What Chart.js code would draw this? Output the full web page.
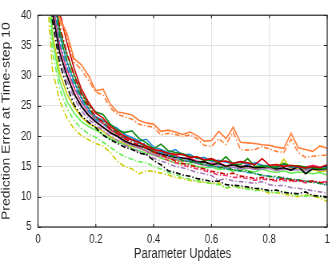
<!DOCTYPE html>
<html>
<head>
<meta charset="utf-8">
<script src="https://cdn.jsdelivr.net/npm/chart.js@4"></script>
<style>
  html, body { margin: 0; padding: 0; background: #fff; overflow: hidden; }
  /* the original figure is squeezed horizontally, so draw wider and squeeze */
  #wrap { width: 420px; height: 263px; transform: scaleX(0.8); transform-origin: 0 0; }
</style>
</head>
<body>
<div id="wrap"><canvas id="lineChart"></canvas></div>
<script>
// x positions (fraction of parameter updates)
const xs = [0.025, 0.05, 0.075, 0.1, 0.125, 0.15, 0.175, 0.2, 0.225, 0.25,
            0.275, 0.3, 0.325, 0.35, 0.375, 0.4, 0.425, 0.45, 0.475, 0.5,
            0.525, 0.55, 0.575, 0.6, 0.625, 0.65, 0.675, 0.7, 0.725, 0.75,
            0.775, 0.8, 0.825, 0.85, 0.875, 0.9, 0.925, 0.95, 0.975, 1.0];

const xTicks = ['0', '0.2', '0.4', '0.6', '0.8', '1'];
const yTicks = [5, 10, 15, 20, 25, 30, 35, 40];

// solid lines
const orangeSolid = [70, 50, 39.5, 37, 32.8, 31.8, 30.0, 27.5, 27.8, 25.3, 24.0, 23.8, 23.5, 22.6, 22.2, 22.0, 20.8, 21.0, 20.7, 20.3, 20.7, 20.1, 19.2, 19.3, 20.8, 19.6, 21.5, 19.0, 18.9, 18.8, 18.6, 18.5, 18.2, 18.0, 20.5, 18.1, 17.8, 17.5, 18.4, 18.0];
const redSolid    = [75, 52, 40.5, 35.5, 31.2, 27.8, 25.6, 23.8, 23.0, 21.6, 20.8, 20.0, 19.4, 19.0, 18.4, 17.8, 17.6, 17.2, 17.0, 17.0, 16.5, 16.6, 16.1, 16.3, 15.8, 15.9, 15.5, 15.8, 15.6, 15.3, 16.3, 15.2, 15.3, 15.0, 15.2, 15.0, 14.7, 15.0, 14.8, 15.3];
const greenSolid  = [72, 47, 37.5, 33.5, 30.2, 27.2, 25.2, 24.0, 23.6, 22.0, 21.0, 20.6, 20.9, 19.6, 18.9, 17.9, 18.7, 17.6, 17.3, 17.1, 16.7, 16.5, 16.0, 16.1, 15.6, 16.6, 15.4, 15.3, 16.3, 15.0, 15.1, 15.0, 14.9, 15.5, 15.0, 15.1, 14.9, 14.8, 14.6, 14.7];
const blueSolid   = [70, 45, 36.8, 32.3, 29.0, 26.3, 24.5, 23.2, 22.6, 21.9, 21.3, 20.3, 19.8, 19.2, 19.5, 18.2, 17.8, 17.3, 17.8, 16.9, 17.0, 16.3, 16.5, 15.8, 16.0, 15.7, 15.5, 15.8, 15.3, 15.6, 15.2, 15.1, 14.8, 15.4, 14.9, 15.0, 14.6, 14.9, 14.8, 14.8];
const blackSolid  = [66, 40.5, 33.8, 30.0, 27.0, 25.0, 23.5, 22.4, 21.5, 20.6, 20.0, 19.2, 18.7, 18.4, 18.0, 17.4, 17.1, 16.8, 16.5, 16.4, 16.2, 15.7, 15.8, 15.3, 15.5, 15.0, 15.3, 14.9, 15.1, 14.8, 14.9, 15.0, 14.6, 14.8, 14.4, 15.0, 13.8, 14.6, 14.5, 14.7];
const pinkSolid   = [68, 42.5, 35.0, 31.0, 28.0, 25.6, 24.0, 22.8, 22.1, 21.0, 20.4, 19.6, 19.4, 18.9, 18.2, 17.6, 17.5, 16.9, 16.8, 16.3, 16.4, 15.9, 15.7, 15.5, 15.6, 15.1, 15.3, 15.0, 15.2, 14.8, 15.0, 15.1, 14.9, 15.2, 14.8, 15.0, 14.9, 15.2, 14.9, 15.1];
const purpleSolid = [66, 41, 34.0, 30.0, 27.0, 24.8, 23.3, 22.3, 21.5, 20.5, 19.9, 19.0, 18.5, 18.0, 17.6, 17.0, 16.8, 16.4, 16.2, 15.9, 15.8, 15.5, 15.2, 15.0, 15.1, 14.7, 14.9, 14.6, 14.8, 14.5, 14.6, 14.7, 14.3, 14.6, 14.4, 14.5, 14.3, 14.6, 14.4, 14.5];
const yellowSolid = [60, 37, 30.5, 27.0, 24.8, 23.2, 22.1, 21.5, 20.8, 19.9, 19.3, 18.8, 18.3, 18.1, 17.5, 17.2, 16.8, 16.3, 16.1, 15.8, 16.0, 15.5, 15.2, 15.3, 14.8, 14.9, 15.6, 14.7, 14.9, 14.6, 14.8, 14.7, 14.5, 16.2, 14.5, 14.6, 14.4, 14.5, 14.2, 14.3];
const limeSolid   = [58, 36, 29.2, 25.8, 23.8, 22.4, 21.6, 21.0, 20.3, 19.6, 19.0, 18.6, 18.0, 17.6, 17.2, 16.9, 16.4, 16.0, 15.6, 15.4, 15.5, 15.0, 14.8, 14.9, 14.5, 14.6, 14.2, 14.7, 14.3, 14.1, 14.6, 14.2, 14.0, 14.3, 13.9, 14.1, 14.0, 13.8, 14.0, 13.6];

// dash-dot lines
const orangeDash  = [70, 48, 39, 36.5, 32.2, 31.0, 29.2, 27.3, 26.8, 24.7, 23.6, 23.2, 22.8, 22.0, 21.7, 21.5, 20.2, 20.5, 20.3, 20.0, 20.2, 19.6, 18.5, 18.3, 19.6, 18.6, 20.7, 17.8, 17.7, 17.8, 18.3, 17.9, 17.5, 17.3, 19.5, 17.3, 16.5, 16.7, 16.8, 16.9];
const redDash     = [70, 48, 38.2, 33.8, 30.0, 27.0, 25.0, 23.2, 22.3, 21.2, 20.4, 19.6, 19.0, 18.5, 18.0, 17.4, 16.9, 16.5, 15.9, 15.5, 15.2, 14.9, 14.6, 14.2, 14.0, 13.7, 13.9, 13.4, 13.3, 13.0, 13.2, 12.9, 12.8, 13.0, 12.7, 12.7, 12.5, 12.6, 12.4, 12.3];
const greenDash   = [68, 45, 36.5, 32.5, 29.3, 26.5, 24.6, 23.0, 22.5, 21.2, 20.5, 19.9, 19.6, 18.8, 18.3, 17.5, 17.6, 17.0, 16.6, 16.0, 15.8, 15.7, 15.3, 15.2, 14.8, 14.9, 14.4, 14.3, 14.2, 13.8, 13.6, 13.3, 13.4, 13.0, 12.9, 12.8, 12.6, 12.4, 12.2, 11.9];
const blueDash    = [66, 43.5, 35.5, 31.5, 28.4, 25.9, 24.1, 22.8, 22.0, 21.2, 20.6, 19.8, 19.4, 18.6, 18.8, 17.8, 17.3, 16.9, 16.7, 16.1, 15.9, 15.6, 15.4, 15.0, 14.9, 14.6, 14.5, 14.2, 14.0, 13.9, 13.5, 13.4, 13.1, 13.2, 12.9, 12.7, 12.5, 12.6, 12.2, 12.0];
const pinkDash    = [64, 41.0, 34.0, 30.2, 27.2, 24.9, 23.4, 22.2, 21.4, 20.5, 19.9, 19.0, 18.6, 18.1, 17.5, 16.9, 16.6, 16.0, 15.6, 15.2, 14.9, 14.6, 14.3, 14.0, 13.6, 13.5, 13.2, 13.2, 13.0, 12.7, 12.9, 12.8, 12.6, 12.7, 12.5, 12.6, 12.3, 12.5, 12.4, 12.5];
const purpleDash  = [62, 40.0, 33.0, 29.2, 26.3, 24.2, 22.8, 21.8, 21.0, 20.0, 19.3, 18.5, 18.0, 17.4, 16.9, 16.4, 15.9, 15.5, 15.0, 14.8, 14.4, 14.0, 13.8, 13.5, 12.7, 13.0, 12.6, 12.5, 12.4, 12.2, 12.5, 12.0, 11.8, 11.9, 11.5, 11.4, 11.2, 11.0, 10.8, 10.6];
const blackDash   = [62, 39.0, 32.0, 28.2, 25.2, 23.4, 22.3, 21.4, 20.2, 19.4, 18.8, 18.2, 17.8, 17.2, 17.0, 16.0, 15.3, 14.3, 14.0, 13.6, 13.4, 13.0, 12.8, 12.5, 12.6, 12.0, 11.9, 11.8, 11.6, 11.4, 11.3, 11.0, 11.1, 10.7, 10.6, 10.5, 10.8, 10.2, 10.1, 10.0];
const limeDash    = [52, 34, 27.8, 24.6, 22.6, 21.3, 20.4, 19.8, 19.0, 18.2, 17.3, 16.6, 16.2, 15.8, 15.6, 15.0, 14.6, 14.0, 13.7, 13.2, 12.9, 12.7, 12.4, 12.2, 12.0, 11.5, 11.8, 11.4, 11.3, 11.0, 11.2, 10.8, 10.7, 10.9, 10.4, 10.3, 10.1, 10.3, 10.0, 9.8];
const yellowDash  = [48, 31, 25.8, 23.0, 21.2, 20.1, 19.4, 18.8, 18.4, 17.3, 15.8, 15.0, 14.6, 13.8, 14.3, 14.2, 13.9, 13.6, 13.2, 13.0, 12.7, 12.5, 12.4, 12.2, 12.3, 11.4, 11.7, 11.5, 11.4, 11.2, 11.0, 10.6, 10.7, 10.4, 10.2, 10.0, 10.3, 10.1, 9.8, 9.2];

const ORANGE = '#ff7f3a', RED = '#cc0000', GREEN = '#128a12', BLUE = '#1f8ad8',
      BLACK = '#000000', PINK = '#f23a78', PURPLE = '#a678b8', LIME = '#66ee55', YELLOW = '#cccc00';
const DASHDOT = [6, 2.5, 1.5, 2.5];

function series(values, color, dashed) {
  return {
    data: values.map((v, i) => ({ x: xs[i], y: v })),
    borderColor: color,
    borderWidth: 1.6,
    borderDash: dashed ? DASHDOT : [],
    pointRadius: 0,
    tension: 0,
    fill: false
  };
}

// box and inward tick marks like the original figure
const boxPlugin = {
  id: 'box',
  afterDraw(chart) {
    const { ctx, chartArea: a, scales } = chart;
    ctx.save();
    ctx.strokeStyle = '#262626';
    ctx.lineWidth = 1.2;
    ctx.strokeRect(a.left, a.top, a.right - a.left, a.bottom - a.top);
    ctx.beginPath();
    scales.x.ticks.forEach(t => {
      const px = scales.x.getPixelForValue(t.value);
      ctx.moveTo(px, a.bottom); ctx.lineTo(px, a.bottom - 3);
      ctx.moveTo(px, a.top); ctx.lineTo(px, a.top + 3);
    });
    scales.y.ticks.forEach(t => {
      const py = Math.round(scales.y.getPixelForValue(t.value)) + 0.5;
      ctx.moveTo(a.left, py); ctx.lineTo(a.left + 4, py);
      ctx.moveTo(a.right, py); ctx.lineTo(a.right - 4, py);
    });
    ctx.stroke();
    ctx.restore();
  }
};

Chart.defaults.font.family = '"Liberation Sans", Arial, sans-serif';
Chart.defaults.font.size = 12;
Chart.defaults.color = '#262626';

let lineCtx = document.getElementById('lineChart');
let lineConfig = {
  type: 'line',
  data: {
    datasets: [
      series(orangeSolid, ORANGE, false), series(orangeDash, ORANGE, true),
      series(redSolid, RED, false), series(redDash, RED, true),
      series(greenSolid, GREEN, false), series(greenDash, GREEN, true),
      series(blueSolid, BLUE, false), series(blueDash, BLUE, true),
      series(blackSolid, BLACK, false), series(blackDash, BLACK, true),
      series(purpleSolid, PURPLE, false), series(purpleDash, PURPLE, true),
      series(pinkSolid, PINK, false), series(pinkDash, PINK, true),
      series(limeSolid, LIME, false), series(limeDash, LIME, true),
      series(yellowSolid, YELLOW, false), series(yellowDash, YELLOW, true)
    ]
  },
  options: {
    responsive: true,
    maintainAspectRatio: false,
    animation: false,
    layout: { padding: { top: 6, right: 11, left: 0, bottom: 0 } },
    plugins: { legend: { display: false }, tooltip: { enabled: false } },
    scales: {
      x: {
        type: 'linear',
        min: 0,
        max: 1,
        ticks: {
          stepSize: 0.2,
          padding: 5,
          callback: (v, i) => xTicks[i]
        },
        grid: { color: '#e3e3e3', tickLength: 0 },
        border: { display: false },
        title: { display: true, text: 'Parameter Updates', font: { size: 14 }, padding: { top: 1, bottom: 0 } },
        afterFit(scale) { scale.height = 36; }
      },
      y: {
        min: 5,
        max: 40,
        ticks: {
          stepSize: 5,
          padding: 8,
          callback: (v, i) => yTicks[i]
        },
        grid: { color: '#e3e3e3', tickLength: 0 },
        border: { display: false },
        title: { display: true, text: 'Prediction Error at Time-step 10', font: { size: 14 }, padding: { top: 0, bottom: 0 } },
        afterFit(scale) { scale.width = 47.5; }
      }
    }
  },
  plugins: [boxPlugin]
};
let lineChart = new Chart(lineCtx, lineConfig);
</script>
</body>
</html>
